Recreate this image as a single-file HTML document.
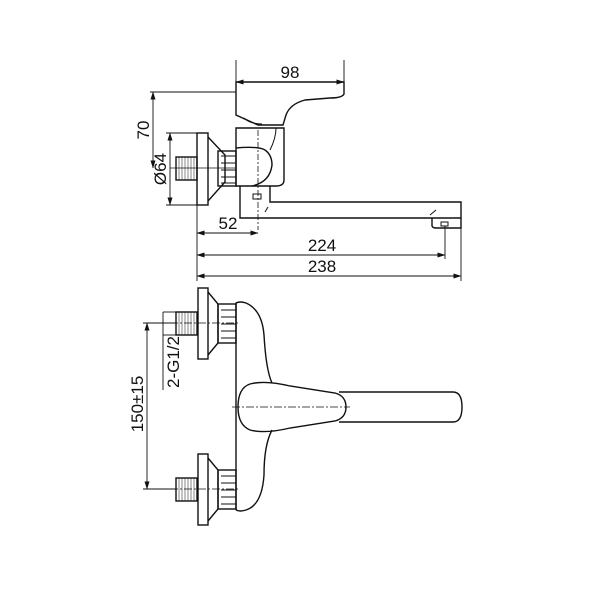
<!DOCTYPE html>
<html><head><style>body{margin:0;background:#fff}svg{display:block}text{font-family:"Liberation Sans",sans-serif;font-size:17px;fill:#111;stroke:none;font-weight:normal}</style></head>
<body>
<svg width="600" height="600" viewBox="0 0 600 600" fill="none" stroke="#111" stroke-width="1.4">
<defs><marker id="a" markerWidth="8" markerHeight="6" refX="7.5" refY="3" orient="auto-start-reverse" markerUnits="userSpaceOnUse"><path d="M0,0.5L8,3L0,5.5z" fill="#111" stroke="none"/></marker></defs>
<path d="M236,82 H344 V94 Q342,98 330,98 L305,100 Q290,104 286,115 L283,125 L258,125 L236,115 Z"/>
<path d="M244,118 Q250,124 262,124" stroke-width="1"/>
<path d="M236,128 H284 V180 Q284,186 276,186 H236 Z"/>
<path d="M236,148 Q258,146 265,150 Q272,155 272,165 Q270,182 252,186" />
<path d="M270,150 Q276,138 276,128" stroke-width="1"/>
<line x1="258" y1="130" x2="258" y2="230" stroke-width="0.8" stroke-dasharray="6,2,2,2"/>
<path d="M240,186 V218 H461 V202 H270 V186"/>
<path d="M268,207 L265,212" stroke-width="1"/>
<rect x="253" y="194" width="8" height="5" stroke-width="1"/>
<path d="M432,218 V226 Q433,228 436,228 H461 V218"/>
<path d="M430,215 L436,210" stroke-width="1"/>
<rect x="441" y="222" width="7" height="4" stroke-width="1"/>
<rect x="197" y="133" width="11" height="72"/>
<path d="M208,137 L225,155 V182 L208,201"/>
<rect x="218" y="151" width="18" height="35"/>
<path d="M221,156 H236 M221,163 H236 M221,170 H236 M221,177 H236 M221,183 H236" stroke-width="0.9"/>
<rect x="176" y="157" width="21" height="23"/>
<path d="M179,157 V180 M182,157 V180 M185,157 V180 M188,157 V180 M191,157 V180 M194,157 V180" stroke-width="0.5"/>
<line x1="170" y1="168" x2="236" y2="168" stroke-width="0.8"/>
<line x1="236" y1="82" x2="236" y2="60" stroke-width="0.9"/>
<line x1="344" y1="82" x2="344" y2="60" stroke-width="0.9"/>
<line x1="236" y1="82" x2="344" y2="82" stroke-width="0.9" marker-start="url(#a)" marker-end="url(#a)"/>
<text x="290" y="78" text-anchor="middle">98</text>
<line x1="150" y1="92" x2="236" y2="92" stroke-width="0.9"/>
<line x1="153" y1="92" x2="153" y2="168" stroke-width="0.9" marker-start="url(#a)" marker-end="url(#a)"/>
<text transform="translate(149,130) rotate(-90)" text-anchor="middle">70</text>
<line x1="166" y1="133" x2="197" y2="133" stroke-width="0.9"/>
<line x1="166" y1="205" x2="197" y2="205" stroke-width="0.9"/>
<line x1="170" y1="133" x2="170" y2="205" stroke-width="0.9" marker-start="url(#a)" marker-end="url(#a)"/>
<text transform="translate(166,169) rotate(-90)" text-anchor="middle">Ø64</text>
<line x1="197" y1="205" x2="197" y2="281" stroke-width="0.9"/>
<line x1="461" y1="228" x2="461" y2="281" stroke-width="0.9"/>
<line x1="445" y1="226" x2="445" y2="259" stroke-width="0.9"/>
<line x1="197" y1="233" x2="258" y2="233" stroke-width="0.9" marker-start="url(#a)" marker-end="url(#a)"/>
<text x="228" y="229" text-anchor="middle">52</text>
<line x1="197" y1="255" x2="445" y2="255" stroke-width="0.9" marker-start="url(#a)" marker-end="url(#a)"/>
<text x="322" y="251" text-anchor="middle">224</text>
<line x1="197" y1="276" x2="461" y2="276" stroke-width="0.9" marker-start="url(#a)" marker-end="url(#a)"/>
<text x="322" y="272" text-anchor="middle">238</text>
<g id="fit">
<rect x="198" y="288" width="10" height="71"/>
<path d="M208,292 L218,304 V343 L208,355"/>
<rect x="218" y="304" width="18" height="39"/>
<path d="M221,310 H236 M221,317 H236 M221,324 H236 M221,331 H236 M221,338 H236" stroke-width="0.9"/>
<rect x="176" y="312" width="21" height="23"/>
<path d="M179,312 V335 M182,312 V335 M185,312 V335 M188,312 V335 M191,312 V335 M194,312 V335" stroke-width="0.5"/>
</g>
<use href="#fit" transform="translate(0,166)"/>
<line x1="170" y1="323" x2="240" y2="323" stroke-width="0.8" stroke-dasharray="8,2,2,2"/>
<line x1="170" y1="489" x2="240" y2="489" stroke-width="0.8" stroke-dasharray="8,2,2,2"/>
<path d="M236,510 V303 Q240,301 246,303 Q262,310 264,335 Q266,370 272,383"/>
<path d="M272,430 Q264,445 264,475 Q262,505 246,510 Q240,512 236,510"/>
<path d="M250,384 Q265,380 290,386 L335,393 Q346,396 346,407 Q346,418 335,421 L290,428 Q265,434 250,430 Q238,425 238,407 Q238,388 250,384 Z"/>
<path d="M339,392 H453 Q462,392 462,407 Q462,422 453,422 H339"/>
<line x1="232" y1="407" x2="350" y2="407" stroke-width="0.8" stroke-dasharray="8,2,2,2"/>
<line x1="143" y1="323" x2="176" y2="323" stroke-width="0.9"/>
<line x1="143" y1="489" x2="176" y2="489" stroke-width="0.9"/>
<line x1="147" y1="323" x2="147" y2="489" stroke-width="0.9" marker-start="url(#a)" marker-end="url(#a)"/>
<text transform="translate(143,404) rotate(-90)" text-anchor="middle">150±15</text>
<line x1="163" y1="312" x2="176" y2="312" stroke-width="0.9"/>
<line x1="163" y1="335" x2="176" y2="335" stroke-width="0.9"/>
<line x1="163" y1="312" x2="163" y2="390" stroke-width="0.9"/>
<text transform="translate(179,362) rotate(-90)" text-anchor="middle">2-G1/2</text>
</svg>
</body></html>
